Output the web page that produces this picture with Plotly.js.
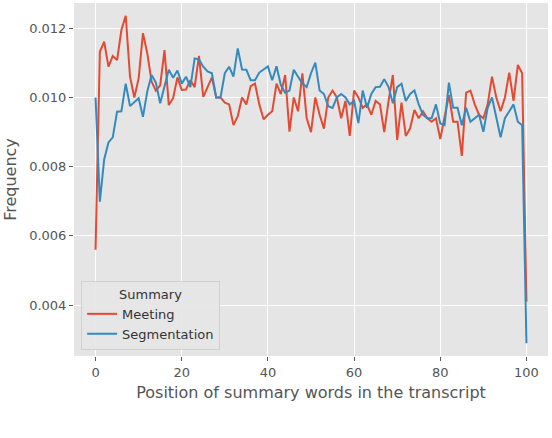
<!DOCTYPE html>
<html>
<head>
<meta charset="utf-8">
<script src="https://cdn.plot.ly/plotly-3.0.1.min.js"></script>
<style>
  body { margin: 0; background: white; }
  #chart { width: 552px; height: 438px; }
</style>
</head>
<body>
<div id="chart"></div>
<script>
// position 0..100 in the transcript
var positions = [];
for (var i = 0; i <= 100; i++) positions.push(i);

var meeting = [
  0.0056, 0.01132, 0.01161, 0.01089, 0.0112, 0.01108, 0.01195, 0.01236, 0.0106, 0.0100,
  0.01055, 0.01186, 0.01128, 0.01046, 0.0102, 0.01035, 0.01137, 0.00978, 0.00998, 0.01058,
  0.01022, 0.01023, 0.0105, 0.0103, 0.0112, 0.01002, 0.0103, 0.01058, 0.0100, 0.0100,
  0.00985, 0.0098, 0.0092, 0.00946, 0.0100, 0.0098, 0.01033, 0.0104, 0.0098, 0.00937,
  0.0095, 0.0096, 0.0104, 0.0101, 0.01065, 0.00901, 0.0100, 0.0096, 0.0107, 0.0094,
  0.0090, 0.0100, 0.0095, 0.0091, 0.0100, 0.0102, 0.0100, 0.0094, 0.0099, 0.00889,
  0.0102, 0.0100, 0.0097, 0.0098, 0.0095, 0.0099, 0.0098, 0.0090, 0.0099, 0.01065,
  0.00877, 0.00985, 0.00889, 0.00911, 0.00964, 0.0094, 0.0096, 0.0094, 0.0093, 0.0094,
  0.0088, 0.0094, 0.01007, 0.0093, 0.0093, 0.00831, 0.01014, 0.0102, 0.0098, 0.0095,
  0.0094, 0.0098, 0.0106, 0.0100, 0.0096, 0.0100, 0.01072, 0.0099, 0.01094, 0.0107,
  0.0041
];

var segmentation = [
  0.0100, 0.00699, 0.00821, 0.0087, 0.00885, 0.00959, 0.0096, 0.0104, 0.00975, 0.00988,
  0.00998, 0.00944, 0.01017, 0.01065, 0.01043, 0.00983, 0.0103, 0.0108, 0.01057, 0.01078,
  0.0104, 0.0106, 0.0103, 0.01113, 0.0111, 0.01089, 0.01075, 0.0107, 0.0100, 0.0100,
  0.0107, 0.01089, 0.0106, 0.01142, 0.01081, 0.0108, 0.0105, 0.0105, 0.01072, 0.0108,
  0.0109, 0.0105, 0.0109, 0.01036, 0.01014, 0.0102, 0.0108, 0.0106, 0.0104, 0.0103,
  0.0107, 0.01101, 0.0102, 0.0101, 0.00975, 0.0097, 0.0100, 0.0101, 0.0100, 0.0098,
  0.0099, 0.00926, 0.0102, 0.0097, 0.0101, 0.0103, 0.01031, 0.01053, 0.0103, 0.00983,
  0.0103, 0.0104, 0.0099, 0.0101, 0.0102, 0.0098, 0.0095, 0.0094, 0.0094, 0.0098,
  0.00925, 0.0092, 0.01043, 0.0097, 0.0097, 0.0092, 0.0097, 0.0093, 0.0094, 0.0095,
  0.00901, 0.0097, 0.0100, 0.0094, 0.00885, 0.0094, 0.0096, 0.0098, 0.0093, 0.0092,
  0.0029
];

var xTicks = [0, 20, 40, 60, 80, 100];
var yTicks = [0.004, 0.006, 0.008, 0.010, 0.012];

var data = [
  { x: positions, y: meeting, name: "Meeting", type: "scatter", mode: "lines",
    line: { color: "#E24A33", width: 2 } },
  { x: positions, y: segmentation, name: "Segmentation", type: "scatter", mode: "lines",
    line: { color: "#348ABD", width: 2 } }
];

var layout = {
  width: 552, height: 438,
  margin: { l: 74, r: 4, t: 3, b: 82 },
  paper_bgcolor: "white",
  plot_bgcolor: "#E5E5E5",
  font: { family: "DejaVu Sans", color: "#555555", size: 13 },
  showlegend: true,
  xaxis: {
    range: [-5, 105],
    tickvals: xTicks,
    ticks: "outside", ticklen: 4, tickcolor: "#555555",
    gridcolor: "white", gridwidth: 1.2, zeroline: false, showline: false,
    title: { text: "Position of summary words in the transcript", font: { size: 16, color: "#555555" }, standoff: 8 }
  },
  yaxis: {
    range: [0.00253, 0.01273],
    tickvals: yTicks,
    ticktext: yTicks.map(function (v) { return v.toFixed(3); }),
    ticks: "outside", ticklen: 4, tickcolor: "#555555",
    gridcolor: "white", gridwidth: 1.2, zeroline: false, showline: false,
    title: { text: "Frequency", font: { size: 16, color: "#555555" }, standoff: 8 }
  },
  legend: {
    x: 0.015, y: 0.017, xanchor: "left", yanchor: "bottom",
    bgcolor: "rgba(229,229,229,0.9)", bordercolor: "#D0D0D0", borderwidth: 1,
    font: { size: 13, color: "#333333" },
    title: { text: "Summary", side: "top center", font: { size: 13, color: "#333333" } }
  }
};

Plotly.newPlot("chart", data, layout, { displayModeBar: false });
</script>
</body>
</html>
